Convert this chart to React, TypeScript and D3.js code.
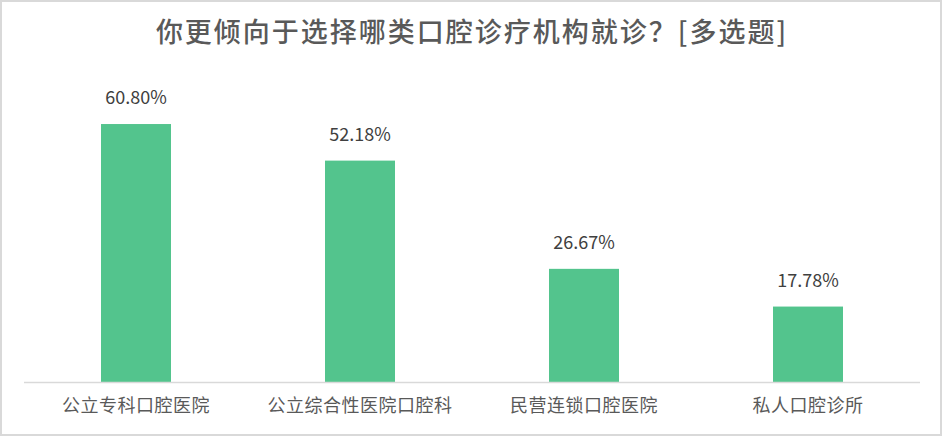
import * as React from 'react';
import * as d3 from 'd3';

const title = '你更倾向于选择哪类口腔诊疗机构就诊？[多选题]';
const categories = ['公立专科口腔医院', '公立综合性医院口腔科', '民营连锁口腔医院', '私人口腔诊所'];
const shares = [60.8, 52.18, 26.67, 17.78];
const shareLabels = ['60.80%', '52.18%', '26.67%', '17.78%'];

const W = 944;
const H = 436;
const FONT = '"Noto Sans CJK SC", "Noto Sans", sans-serif';

export default function App() {
  const x = d3.scaleBand<string>()
    .domain(categories)
    .range([24, 920])
    .paddingInner(0.6875)
    .paddingOuter(0.34375);
  const y = d3.scaleLinear().domain([0, 70]).range([382, 85]);

  return (
    <svg width={W} height={H} style={{ position: 'absolute', left: 0, top: 0, background: '#fff' }}>
      <rect x={1} y={1} width={940} height={434} fill="#fff" stroke="#d9d9d9" strokeWidth={2} />
      <text x={472} y={42} textAnchor="middle" fontFamily={FONT} fontSize={27} letterSpacing={2}
        fill="#595959" fontWeight={500}>{title}</text>
      {categories.map((c, i) => (
        <g key={c}>
          <rect x={x(c)!} y={y(shares[i])} width={x.bandwidth()} height={y(0) - y(shares[i])} fill="#53C48D" />
          <text x={x(c)! + x.bandwidth() / 2} y={y(shares[i]) - 20} textAnchor="middle" fontFamily={FONT}
            fontSize={18} fill="#404040">{shareLabels[i]}</text>
          <text x={x(c)! + x.bandwidth() / 2} y={412} textAnchor="middle" fontFamily={FONT}
            fontSize={18} letterSpacing={0.5} fill="#595959">{c}</text>
        </g>
      ))}
      <line x1={24} x2={920} y1={382.5} y2={382.5} stroke="#d9d9d9" strokeWidth={1.5} />
    </svg>
  );
}
